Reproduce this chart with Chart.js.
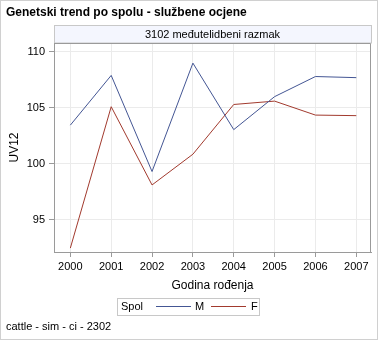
<!DOCTYPE html>
<html>
<head>
<meta charset="utf-8">
<script src="https://cdn.jsdelivr.net/npm/chart.js@4"></script>
<style>
  html, body { margin: 0; padding: 0; background: #fff; }
  #chart { display: block; }
</style>
</head>
<body>
<canvas id="chart" width="378" height="340"></canvas>
<script>
const years = [2000, 2001, 2002, 2003, 2004, 2005, 2006, 2007];
const maleValues = [103.45, 107.9, 99.3, 109.0, 103.05, 106.0, 107.8, 107.7];
const femaleValues = [92.45, 105.1, 98.1, 100.85, 105.3, 105.6, 104.35, 104.3];
const yTicks = [95, 100, 105, 110];

const FONT = '"Liberation Sans", Arial, sans-serif';
const axisGray = '#9a9a9a';
const gridGray = '#ebebeb';

// frame, title, panel header, legend and footnote around the plot
const decorations = {
  id: 'decorations',
  beforeDraw(chart) {
    const ctx = chart.ctx;
    ctx.save();
    ctx.fillStyle = '#fff';
    ctx.fillRect(0, 0, chart.width, chart.height);
    ctx.strokeStyle = '#d0d0d0';
    ctx.lineWidth = 1;
    ctx.strokeRect(0.5, 0.5, chart.width - 1, chart.height - 1);
    ctx.restore();
  },
  afterDraw(chart) {
    const ctx = chart.ctx;
    const a = chart.chartArea;
    ctx.save();

    // panel header strip
    ctx.lineWidth = 1;
    ctx.fillStyle = '#f4f6fe';
    ctx.fillRect(a.left + 0.5, 25.5, a.right - a.left, a.top - 25.5);
    ctx.strokeStyle = '#c8c8c8';
    ctx.strokeRect(a.left + 0.5, 25.5, a.right - a.left, a.top - 25.5);
    ctx.fillStyle = '#000';
    ctx.font = '11px ' + FONT;
    ctx.textAlign = 'center';
    ctx.textBaseline = 'middle';
    ctx.fillText('3102 međutelidbeni razmak', (a.left + a.right) / 2, 34.5);

    // plot border on top and right
    ctx.strokeStyle = axisGray;
    ctx.beginPath();
    ctx.moveTo(a.left, a.top + 0.5);
    ctx.lineTo(a.right - 0.5, a.top + 0.5);
    ctx.lineTo(a.right - 0.5, a.bottom);
    ctx.stroke();

    // title
    ctx.font = 'bold 12px ' + FONT;
    ctx.textAlign = 'left';
    ctx.fillText('Genetski trend po spolu - službene ocjene', 6, 13);

    // legend
    ctx.strokeStyle = '#c8c8c8';
    ctx.strokeRect(117.5, 298.5, 142, 17);
    ctx.font = '11px ' + FONT;
    ctx.fillStyle = '#000';
    ctx.fillText('Spol', 121, 307);
    ctx.strokeStyle = chart.data.datasets[0].borderColor;
    ctx.beginPath(); ctx.moveTo(156, 306.5); ctx.lineTo(191, 306.5); ctx.stroke();
    ctx.fillText(chart.data.datasets[0].label, 195, 307);
    ctx.strokeStyle = chart.data.datasets[1].borderColor;
    ctx.beginPath(); ctx.moveTo(211, 306.5); ctx.lineTo(246, 306.5); ctx.stroke();
    ctx.fillText(chart.data.datasets[1].label, 251, 307);

    // footnote
    ctx.fillText('cattle - sim - ci - 2302', 6, 327);
    ctx.restore();
  }
};

new Chart(document.getElementById('chart'), {
  type: 'line',
  data: {
    datasets: [{
      label: 'M',
      data: years.map((y, i) => ({ x: y, y: maleValues[i] })),
      borderColor: '#445694',
      borderWidth: 1,
      pointRadius: 0,
      tension: 0
    }, {
      label: 'F',
      data: years.map((y, i) => ({ x: y, y: femaleValues[i] })),
      borderColor: '#a23a2e',
      borderWidth: 1,
      pointRadius: 0,
      tension: 0
    }]
  },
  options: {
    responsive: false,
    animation: false,
    layout: { padding: { left: 0, right: 7, top: 43, bottom: 43 } },
    plugins: {
      legend: { display: false },
      tooltip: { enabled: false }
    },
    scales: {
      x: {
        type: 'linear',
        min: 1999.6,
        max: 2007.36,
        afterBuildTicks: s => { s.ticks = years.map(v => ({ value: v })); },
        afterFit: s => { s.height = 45; },
        grid: { color: gridGray, tickColor: axisGray, tickLength: 5 },
        border: { color: axisGray },
        ticks: { color: '#000', font: { family: FONT, size: 11 }, padding: 3, maxRotation: 0, callback: v => String(v) },
        title: { display: true, text: 'Godina rođenja', color: '#000', font: { family: FONT, size: 12 }, padding: { top: 4, bottom: 4 } }
      },
      y: {
        min: 92.1,
        max: 110.8,
        afterBuildTicks: s => { s.ticks = yTicks.map(v => ({ value: v })); },
        afterFit: s => { s.width = 54; },
        grid: { color: gridGray, tickColor: axisGray, tickLength: 5 },
        border: { color: axisGray },
        ticks: { color: '#000', font: { family: FONT, size: 11 }, padding: 4 },
        title: { display: true, text: 'UV12', color: '#000', font: { family: FONT, size: 12 }, padding: { top: 7, bottom: 4 } }
      }
    }
  },
  plugins: [decorations]
});
</script>
</body>
</html>
